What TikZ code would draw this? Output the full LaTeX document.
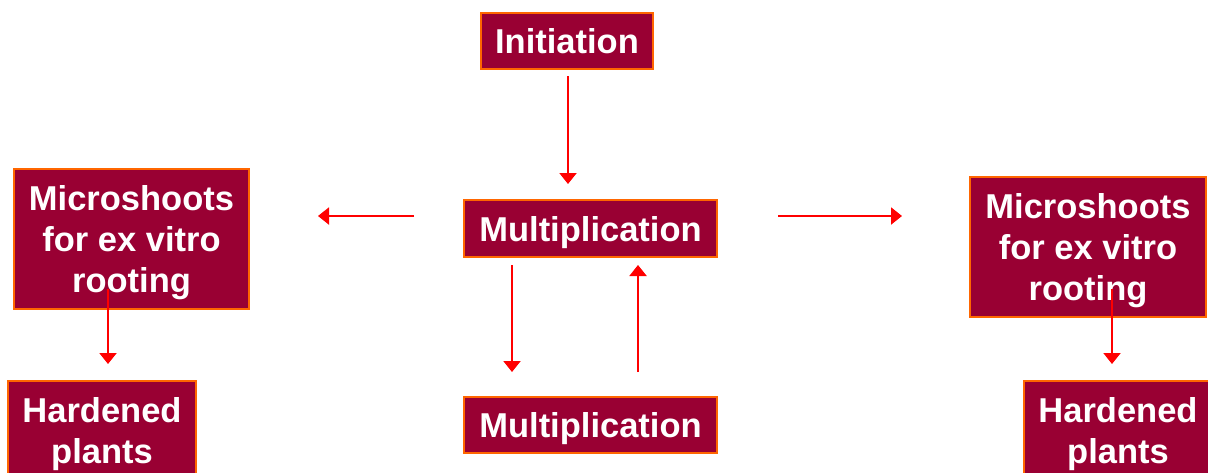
\documentclass[tikz,border=0pt]{standalone}
\usepackage{fontspec}
\setmainfont{Liberation Sans}
\usetikzlibrary{arrows.meta,calc}
\definecolor{boxfill}{RGB}{153,0,51}
\definecolor{boxline}{RGB}{255,102,0}
\definecolor{arrred}{RGB}{255,0,0}
\begin{document}
\begin{tikzpicture}[x=1pt,y=-1pt,
 box/.style={draw=boxline,fill=boxfill,line width=2pt,inner sep=0pt,text=white,
   font=\fontsize{34.5}{41}\selectfont\bfseries,align=center,anchor=north west,text depth=0pt},
 arrow/.style={draw=arrred,line width=2pt,-{Triangle[width=17pt,length=11pt]}}]
\useasboundingbox (0,0) rectangle (1208,472);
\clip (0,0) rectangle (1208,472);
\node[box,minimum width=172pt,minimum height=56pt] (init) at (480,12) {Initiation};
\node[box,minimum width=253pt,minimum height=57pt] (mult) at (463,199) {Multiplication};
\node[box,minimum width=253pt,minimum height=56pt] (mult2) at (463,396) {Multiplication};
\node[box,minimum width=235pt,minimum height=140pt] (lmicro) at (13,168) {Microshoots\\for ex vitro\\rooting};
\node[box,minimum width=188pt,minimum height=98pt] (lhard) at (7,380) {Hardened\\plants};
\node[box,minimum width=236pt,minimum height=140pt] (rmicro) at (969,176) {Microshoots\\for ex vitro\\rooting};
\node[box,minimum width=188pt,minimum height=98pt] (rhard) at (1023,380) {Hardened\\plants};
\draw[arrow] ($(init.south)+(1,6)$) -- ($(mult.north)+(-22.5,-15)$);
\draw[arrow] ($(mult.west)+(-49,-12.5)$) -- ($(lmicro.east)+(68,-23)$);
\draw[arrow] ($(mult.east)+(60,-12.5)$) -- ($(rmicro.west)+(-67,-31)$);
\draw[arrow] ($(mult.south)+(-78.5,7)$) -- ($(mult2.north)+(-78.5,-24)$);
\draw[arrow] ($(mult2.north)+(47.5,-24)$) -- ($(mult.south)+(47.5,7)$);
\draw[arrow] ($(lmicro.south)+(-23.5,-21)$) -- ($(lhard.north)+(6,-16)$);
\draw[arrow] ($(rmicro.south)+(24,-29)$) -- ($(rhard.north)+(-6,-16)$);
\end{tikzpicture}
\end{document}
